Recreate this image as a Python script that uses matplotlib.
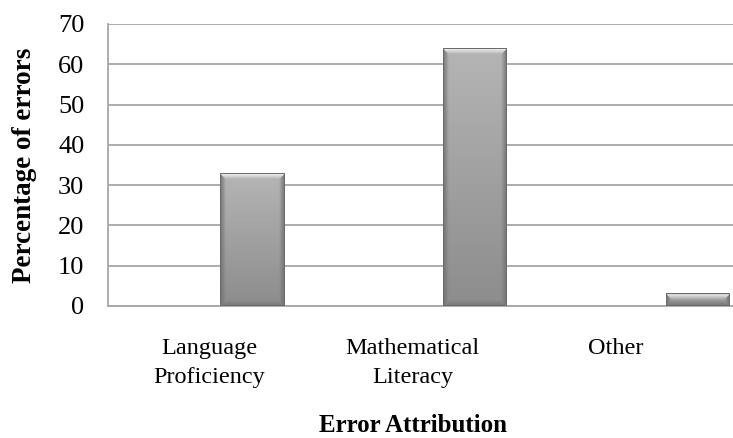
import matplotlib.pyplot as plt
import numpy as np

categorias = ['Language\nProficiency', 'Mathematical\nLiteracy', 'Other']
porcentajes = [33, 64, 3]

plt.rcParams['font.family'] = 'Liberation Serif'

fig = plt.figure(figsize=(7.33, 4.38), dpi=100)
ax = fig.add_axes([108 / 733, 132 / 438, 625 / 733, 282 / 438])

px_x = 203.0            # pixels per category unit
px_y = 282.0 / 70.0     # pixels per percent
ancho = 64 / px_x
pos_barras = 0.707 + 1.1 * np.arange(len(porcentajes))


def sombreado(w, h, bev=6):
    # bevelled gray bar, shaded pixel by pixel
    yy, xx = np.mgrid[0:h, 0:w] + 0.5
    dt, db = yy, h - yy
    dl, dr = xx, w - xx
    base = 0.71 - 0.16 * (yy / max(h, 1))
    d = np.stack([dt, db, dl, dr])
    cual = np.argmin(d, axis=0)
    dmin = d.min(axis=0)
    borde = np.array([0.97, 0.47, 0.44, 0.44])[cual]
    t = np.clip(dmin / bev, 0, 1)
    img = borde * (1 - t) + base * t
    img[dmin < 1] = 0.42
    return np.dstack([img, img, img])


for x, v in zip(pos_barras, porcentajes):
    w = int(round(ancho * px_x))
    h = max(int(round(v * px_y)), 2)
    ax.imshow(sombreado(w, h), extent=(x - ancho / 2, x + ancho / 2, 0, v),
              aspect='auto', interpolation='bilinear', zorder=3)

ax.set_xlim(0, 625 / px_x)
ax.set_ylim(0, 70)
ax.set_yticks(range(0, 71, 10))
ax.set_xticks(np.arange(len(categorias)) + 0.5)
ax.set_xticklabels(categorias, fontsize=17.5, linespacing=1.5)
ax.tick_params(axis='y', labelsize=19, length=0, pad=17)
ax.tick_params(axis='x', length=0, pad=23)
ax.grid(axis='y', color='#a6a6a6', linewidth=1.3, zorder=0)
ax.set_axisbelow(True)
for lado in ['top', 'right']:
    ax.spines[lado].set_visible(False)
ax.spines['left'].set_color('#a6a6a6')
ax.spines['bottom'].set_color('#a6a6a6')
ax.spines['left'].set_linewidth(1.3)
ax.spines['bottom'].set_linewidth(1.3)

ax.set_ylabel('Percentage of errors', fontsize=19.5, fontweight='bold', labelpad=15)
fig.text(413 / 733, 1 / 438, 'Error Attribution', fontsize=18,
         fontweight='bold', ha='center', va='bottom')

fig.savefig('out.png', dpi=100)
